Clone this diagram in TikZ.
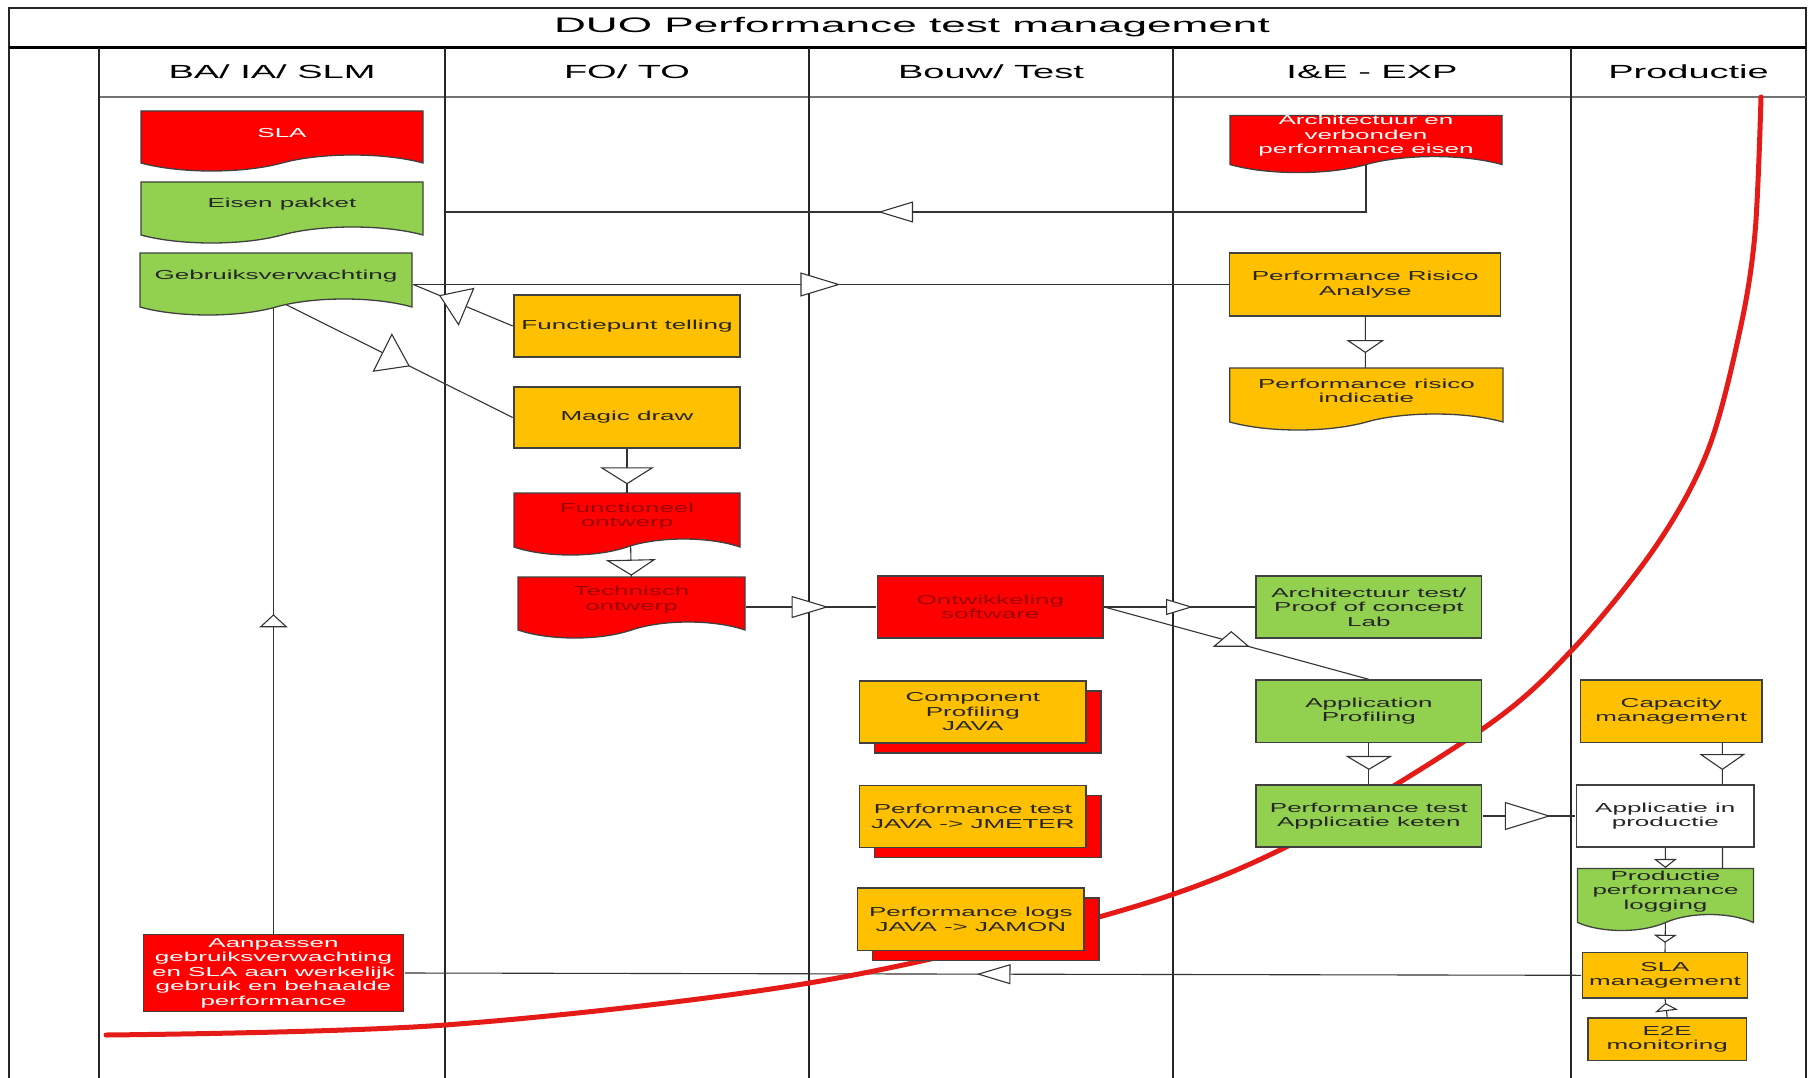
\documentclass[tikz,border=0pt]{standalone}
\usepackage{fontspec}
\setmainfont{Liberation Sans}
\usetikzlibrary{arrows.meta,shapes.symbols,shadows,decorations.markings}

\definecolor{duored}{HTML}{FF0000}
\definecolor{duodark}{HTML}{9A0000}
\definecolor{duoyellow}{HTML}{FFC000}
\definecolor{duogreen}{HTML}{92D050}
\definecolor{curvered}{HTML}{E41B17}

\newcommand\boxfont{\fontsize{13}{14.5}\selectfont}
\newcommand\titelfont{\fontsize{21}{25}\selectfont}
\newcommand\kopfont{\fontsize{19}{22}\selectfont}

\pgfdeclarelayer{back}
\pgfsetlayers{back,main}

\tikzset{
  lbl/.style={align=center, inner sep=0pt, xscale=2},
  box/.style={lbl, font=\boxfont, rectangle, draw=black!75, line width=1.3pt, text=black!85},
  doc/.style={box, tape, tape bend top=none, tape bend height=16pt},
  geel/.style={fill=duoyellow},
  groen/.style={fill=duogreen},
  rood/.style={fill=duored, text=white},
  roodtxt/.style={fill=duored, text=duodark},
  stapel/.style={box, geel, copy shadow={shadow xshift=15pt, shadow yshift=-10pt, fill=duored, draw=black!75}},
  conn/.style={draw=black!80, line width=1.1pt},
  lane/.style={draw=black!85, line width=2pt},
  flow/.style args={#1/#2/#3}{postaction={decorate, decoration={markings,
      mark=at position #1 with {\arrow{Triangle[length=#2pt, width=#3pt, fill=white]}}}}},
  kantel/.style={postaction={decorate, decoration={markings,
      mark=at position #1 with {\pgftransformresetnontranslations
        \draw[conn, fill=white] (-17,4.5) -- (0,-10) -- (17,4.5) -- cycle;}}}}
}

\begin{document}
\begin{tikzpicture}[x=1pt, y=-1pt]
\useasboundingbox (0,0) rectangle (1812,1078);

% titel en kolomkoppen
\node[lbl, font=\titelfont, xscale=1.05] (titel) at (912,27) {DUO Performance test management};
\foreach \naam/\x/\tekst in {ba/272/{BA/ IA/ SLM}, fo/627/{FO/ TO}, bouw/991/{Bouw/ Test}, ie/1372/{I\&E - EXP}, prod/1688.5/{Productie}}
  \node[lbl, font=\kopfont] (kop\naam) at (\x,72) {\tekst};

% BA/ IA/ SLM
\node[doc, rood, minimum width=141pt, minimum height=60pt] (sla) at (282,133) {SLA};
\node[doc, groen, minimum width=141pt, minimum height=61pt] (eisen) at (282,204.5) {Eisen pakket};
\node[doc, groen, minimum width=136pt, minimum height=62pt] (gebruik) at (276,276) {Gebruiksverwachting};
\node[box, rood, minimum width=130pt, minimum height=77pt] (aanpassen) at (273.5,973)
  {Aanpassen\\gebruiksverwachting\\en SLA aan werkelijk\\gebruik en behaalde\\performance};

% FO/ TO
\node[box, geel, minimum width=113pt, minimum height=62pt] (functie) at (627,326) {Functiepunt telling};
\node[box, geel, minimum width=113pt, minimum height=61pt] (magic) at (627,417.5) {Magic draw};
\node[doc, roodtxt, minimum width=113pt, minimum height=62pt] (funcont) at (627,516) {Functioneel\\ontwerp};
\node[doc, roodtxt, minimum width=113.5pt, minimum height=61pt] (techont) at (631.5,599.5) {Technisch\\ontwerp};

% Bouw/ Test
\node[box, roodtxt, minimum width=112.7pt, minimum height=62pt] (ontw) at (990.3,607) {Ontwikkeling\\software};
\node[stapel, minimum width=113.2pt, minimum height=62pt] (comp) at (972.8,712) {Component\\Profiling\\JAVA};
\node[stapel, minimum width=113.2pt, minimum height=61.6pt] (perftest) at (972.8,816.5) {Performance test\\JAVA -> JMETER};
\node[stapel, minimum width=113.2pt, minimum height=62.7pt] (perflogs) at (970.9,919.4) {Performance logs\\JAVA -> JAMON};

% I&E - EXP
\node[doc, rood, minimum width=136pt, minimum height=54pt] (archeisen) at (1366,136) {Architectuur en\\verbonden\\performance eisen};
\node[box, geel, minimum width=135.5pt, minimum height=63pt] (pra) at (1365.3,284.5) {Performance Risico\\Analyse};
\node[doc, geel, minimum width=136.6pt, minimum height=62pt] (pri) at (1366.4,391) {Performance risico\\indicatie};
\node[box, groen, minimum width=112.9pt, minimum height=62pt] (archtest) at (1368.9,607) {Architectuur test/\\Proof of concept\\Lab};
\node[box, groen, minimum width=112.9pt, minimum height=62.4pt] (appprof) at (1368.9,711.2) {Application\\Profiling};
\node[box, groen, minimum width=112.9pt, minimum height=62pt] (perfketen) at (1368.9,816) {Performance test\\Applicatie keten};

% Productie
\node[box, geel, minimum width=90.7pt, minimum height=62.4pt] (capacity) at (1671.3,711.2) {Capacity\\management};
\node[box, fill=white, minimum width=88.7pt, minimum height=62pt] (applprod) at (1665.3,816) {Applicatie in\\productie};
\node[doc, groen, minimum width=88pt, minimum height=62pt] (prodlog) at (1665.5,891.5) {Productie\\performance\\logging};
\node[box, geel, minimum width=82.6pt, minimum height=45.3pt] (slamgmt) at (1665,975.3) {SLA\\management};
\node[box, geel, minimum width=79.2pt, minimum height=42.8pt] (e2e) at (1667.2,1039.3) {E2E\\monitoring};

\coordinate (eisenpunt) at (445,212);

\begin{pgfonlayer}{back}
% kader en banen
\draw[line width=1.5pt, draw=black!85] (9,8) rectangle (1806,1100);
\draw[line width=3pt] (9,47.7) -- (1806,47.7);
\draw[line width=2pt, draw=black!55] (99,97) -- (1806,97);
\foreach \x in {99,445,809,1173,1571}
  \draw[lane] (\x,47.7) -- (\x,1100);

% verbindingen
\draw[conn, flow=-433pt/35/21] (archeisen.south) |- (eisenpunt);
\draw[conn, flow=0.524/40/24] (gebruik.east |- pra.west) -- (pra.west);
\draw[conn, flow=0.743/30/41] (functie.west) -- (gebruik.east |- pra.west);
\draw[conn, flow=-114.8pt/31/43] (gebruik.south) -- (magic.west);
\draw[conn, flow=319.6pt/13/28] (aanpassen.north) -- ([xshift=-2.5pt]gebruik.south);
\draw[conn, flow=0.69/17/54] (magic.south) -- ([yshift=-8pt]funcont.north);
\draw[conn, flow=-8.7pt/16/50] ([xshift=3.5pt]funcont.south) -- ([yshift=-8pt]techont.north);
\draw[conn, flow=0.633/37/22] (techont.east |- ontw.west) -- (ontw.west);
\draw[conn, flow=0.59/27/16] (ontw.east) -- (archtest.west);
\draw[conn, kantel=0.48] (ontw.east) -- (appprof.north);
\draw[conn, flow=0.62/13/38] (pra.south) -- ([xshift=-1pt, yshift=-8pt]pri.north);
\draw[conn, flow=0.65/14/47] (appprof.south) -- (perfketen.north);
\draw[conn, flow=0.735/46/28] (perfketen.east) -- (applprod.west);
\draw[conn, flow=0.203/16/46] ([xshift=51pt]capacity.south) -- ([xshift=57pt, yshift=-8pt]prodlog.north);
\draw[conn, flow=0.72/9/23] (applprod.south) -- ([yshift=-8pt]prodlog.north);
\draw[conn, flow=-9.2pt/8/23] (prodlog.south) -- (slamgmt.north);
\draw[conn, flow=0.76/8/23] (e2e.north) -- (slamgmt.south);
\draw[conn, flow=0.514/34/20] (slamgmt.west) -- (aanpassen.east);

% rode curve
\draw[line width=5pt, draw=curvered, line cap=round] plot[smooth, tension=0.55] coordinates
  {(106,1035) (445,1025) (809,983) (1106,915) (1284,848) (1481,730) (1572,650) (1656,546) (1708,450) (1740,330) (1755,233) (1761,97)};
\end{pgfonlayer}
\end{tikzpicture}
\end{document}
